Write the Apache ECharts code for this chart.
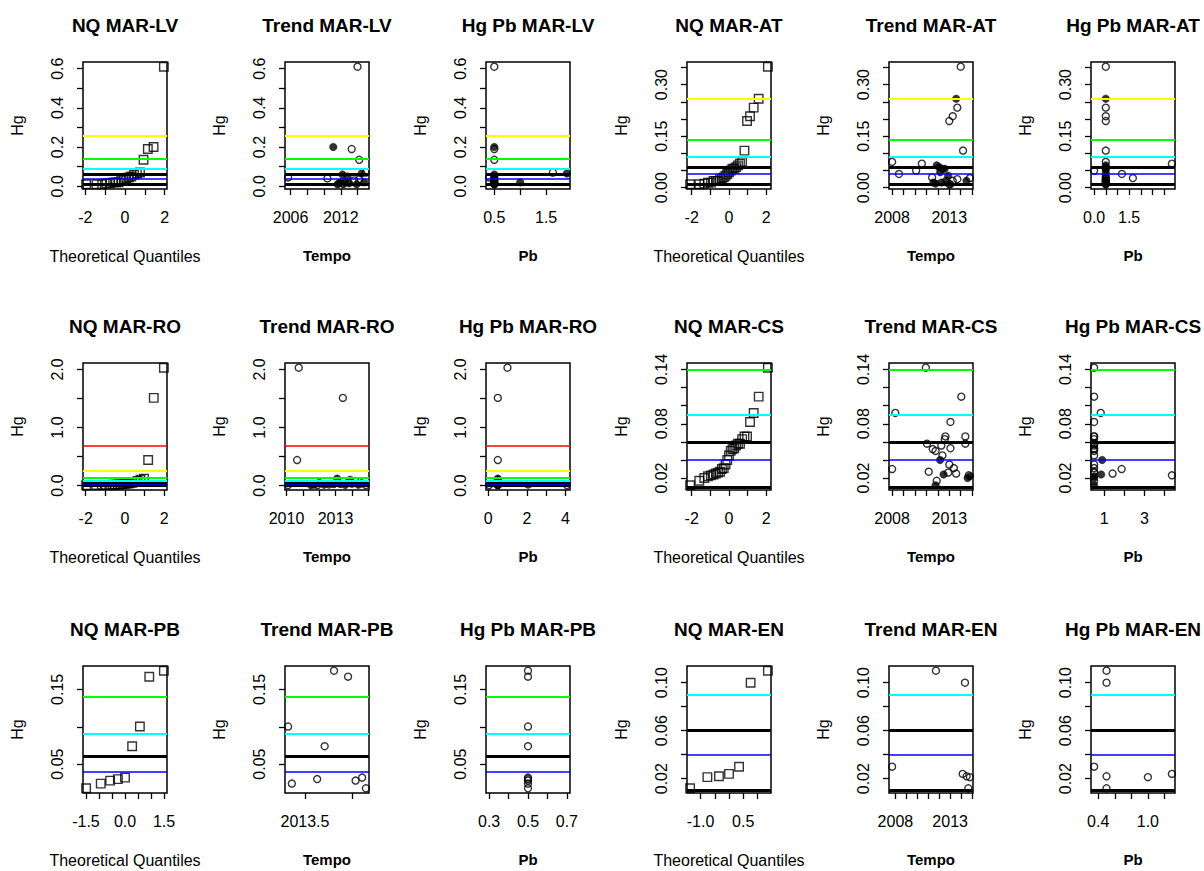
<!DOCTYPE html>
<html><head><meta charset="utf-8">
<script src="https://cdn.jsdelivr.net/npm/echarts@6/dist/echarts.min.js"></script>
<style>html,body{margin:0;padding:0;background:#fff}#c{width:1204px;height:871px}</style>
</head><body><div id="c"></div>
<script>
// ---------------- DATA ----------------
const locOrder = ["LV", "AT", "RO", "CS", "PB", "EN"];
// horizontal reference levels of Hg
const limitValues = [0.01, 0.04, 0.06, 0.09, 0.14, 0.26, 0.68];

// MAR-LV
const tempoLV = [2005.7, 2010.4, 2011.1, 2013.3, 2014.2, 2014.0, 2014.5, 2015.0, 2012.2, 2012.8, 2014.2, 2013.6, 2012.0, 2012.5, 2014.8, 2013.0, 2011.8, 2012.3, 2013.9, 2011.6];
const hgLV = [0.045, 0.04, 0.2, 0.19, 0.135, 0.61, 0.065, 0.07, 0.06, 0.05, 0.035, 0.03, 0.02, 0.02, 0.02, 0.015, 0.015, 0.01, 0.01, 0.01];
const pbLV = [0.4, 0.5, 0.5, 0.5, 0.5, 0.5, 1.9, 1.63, 0.5, 0.5, 0.5, 0.5, 1.0, 0.5, 0.5, 0.5, 0.5, 0.5, 0.5, 0.5];
const filledLV = [0, 0, 1, 0, 0, 0, 1, 0, 1, 1, 0, 0, 1, 1, 1, 1, 1, 1, 1, 1];
const tqLV = [-1.95996, -1.43953, -1.15035, -0.93459, -0.75542, -0.59776, -0.45376, -0.31864, -0.18912, -0.06271, 0.06271, 0.18912, 0.31864, 0.45376, 0.59776, 0.75542, 0.93459, 1.15035, 1.43953, 1.95996];

// MAR-AT
const tempoAT = [2014.0, 2013.6, 2013.7, 2013.3, 2013.0, 2014.2, 2008.0, 2010.6, 2008.6, 2010.1, 2014.8, 2011.9, 2012.1, 2012.4, 2012.6, 2012.2, 2011.6, 2011.8, 2012.3, 2012.7, 2013.0, 2013.3, 2013.7, 2014.5, 2012.9, 2013.1, 2011.5];
const hgAT = [0.352, 0.259, 0.233, 0.208, 0.194, 0.108, 0.075, 0.07, 0.04, 0.05, 0.028, 0.065, 0.06, 0.055, 0.055, 0.045, 0.015, 0.012, 0.015, 0.02, 0.01, 0.02, 0.025, 0.02, 0.035, 0.01, 0.03];
const pbAT = [0.5, 0.5, 0.5, 0.5, 0.5, 0.5, 0.5, 3.33, 1.19, 0.0, 1.66, 0.5, 0.5, 0.5, 0.5, 0.5, 0.5, 0.5, 0.5, 0.5, 0.5, 0.5, 0.5, 0.5, 0.5, 0.5, 0.5];
const filledAT = [0, 1, 0, 0, 0, 0, 0, 0, 0, 0, 0, 1, 1, 1, 1, 1, 1, 1, 1, 1, 0, 0, 0, 1, 1, 1, 0];
const tqAT = [-2.0858, -1.5932, -1.3245, -1.1279, -0.9674, -0.8284, -0.7040, -0.5895, -0.4824, -0.3804, -0.2822, -0.1867, -0.0929, 0, 0.0929, 0.1867, 0.2822, 0.3804, 0.4824, 0.5895, 0.7040, 0.8284, 0.9674, 1.1279, 1.3245, 1.5932, 2.0858];

// MAR-RO
const tempoRO = [2010.75, 2013.45, 2010.65, 2013.1, 2013.9, 2014.2, 2010.1, 2014.86, 2011.7, 2011.5, 2011.9, 2012.3, 2012.6, 2012.9, 2013.3, 2013.6, 2014.0, 2014.4, 2014.6, 2012.0, 2013.8];
const hgRO = [2.03, 1.51, 0.44, 0.12, 0.1, 0.08, 0.01, 0.01, 0.02, 0.005, 0.01, 0.015, 0.02, 0.025, 0.03, 0.012, 0.035, 0.015, 0.04, 0.05, 0.06];
const pbRO = [1.0, 0.5, 0.5, 0.5, 0.5, 0.5, 0.05, 4.07, 2.07, 0.5, 0.5, 0.5, 0.5, 0.5, 0.5, 0.5, 0.5, 0.5, 0.5, 0.5, 0.5];
const filledRO = [0, 0, 0, 1, 1, 0, 0, 0, 0, 1, 0, 1, 0, 1, 0, 1, 0, 1, 0, 1, 0];
const tqRO = [-1.9808, -1.4652, -1.1798, -0.9674, -0.7916, -0.6372, -0.4972, -0.3661, -0.2409, -0.1195, 0, 0.1195, 0.2409, 0.3661, 0.4972, 0.6372, 0.7916, 0.9674, 1.1798, 1.4652, 1.9808];

// MAR-CS
const tempoCS = [2010.95, 2014.05, 2008.28, 2013.1, 2012.66, 2014.4, 2011.05, 2014.4, 2012.3, 2013.1, 2011.55, 2011.8, 2012.2, 2013.4, 2012.9, 2013.6, 2012.5, 2008.0, 2014.7, 2014.8, 2011.9, 2011.8, 2012.4, 2013.0, 2011.2, 2014.6, 2012.6];
const hgCS = [0.142, 0.110, 0.092, 0.082, 0.066, 0.066, 0.058, 0.058, 0.056, 0.053, 0.052, 0.05, 0.04, 0.031, 0.026, 0.025, 0.024, 0.03, 0.023, 0.022, 0.017, 0.012, 0.045, 0.035, 0.027, 0.020, 0.063];
const pbCS = [0.5, 0.5, 0.83, 0.5, 0.5, 0.5, 0.5, 0.5, 0.5, 0.5, 0.5, 0.5, 0.9, 0.5, 0.5, 1.42, 0.85, 1.87, 4.37, 0.5, 0.5, 0.5, 0.5, 0.5, 0.5, 0.5, 0.5];
const filledCS = [0, 0, 0, 0, 0, 0, 0, 0, 0, 0, 0, 0, 1, 0, 0, 0, 1, 0, 0, 1, 0, 1, 0, 0, 0, 1, 0];
const tqCS = tqAT.slice();

// MAR-PB
const tempoPB = [2013.32, 2013.36, 2013.63, 2013.71, 2013.81, 2013.96, 2014.04, 2014.11, 2014.15];
const hgPB = [0.1003, 0.024, 0.03, 0.074, 0.175, 0.167, 0.028, 0.032, 0.0177];
const pbPB = [0.5, 0.5, 0.5, 0.5, 0.5, 0.5, 0.5, 0.5, 0.5];
const filledPB = [0, 0, 0, 0, 0, 0, 0, 0, 0];
const tqPB = [-1.4944, -0.9320, -0.5716, -0.2744, 0, 0.2744, 0.5716, 0.9320, 1.4944];

// MAR-EN
const tempoEN = [2007.7, 2011.7, 2014.35, 2014.14, 2014.5, 2014.8, 2014.66];
const hgEN = [0.03, 0.11, 0.1, 0.024, 0.022, 0.0213, 0.012];
const pbEN = [0.35, 0.5, 0.5, 1.29, 0.5, 1.0, 0.5];
const filledEN = [0, 0, 0, 0, 0, 0, 0];
const tqEN = [-1.3648, -0.7585, -0.3529, 0, 0.3529, 0.7585, 1.3648];

// tick positions and tick labels
const yTicksLV = [0, 0.1, 0.2, 0.3, 0.4, 0.5, 0.6], yLabelsLV = ["0.0", "0.2", "0.4", "0.6"];
const yTicksAT = [0, 0.05, 0.1, 0.15, 0.2, 0.25, 0.3, 0.35], yLabelsAT = ["0.00", "0.15", "0.30"];
const yTicksRO = [0, 0.5, 1, 1.5, 2], yLabelsRO = ["0.0", "1.0", "2.0"];
const yTicksCS = [0.02, 0.04, 0.06, 0.08, 0.1, 0.12, 0.14], yLabelsCS = ["0.02", "0.08", "0.14"];
const yTicksPB = [0.05, 0.1, 0.15], yLabelsPB = ["0.05", "0.15"];
const yTicksEN = [0.02, 0.04, 0.06, 0.08, 0.1], yLabelsEN = ["0.02", "0.06", "0.10"];

const nqTicks2 = [-2, -1, 0, 1, 2], nqLabels2 = ["-2", "0", "2"];
const nqTicksPB = [-1.5, -1, -0.5, 0, 0.5, 1, 1.5], nqLabelsPB = ["-1.5", "0.0", "1.5"];
const nqTicksEN = [-1, -0.5, 0, 0.5, 1], nqLabelsEN = ["-1.0", "0.5"];

const trTicksLV = [2006, 2008, 2010, 2012, 2014], trLabelsLV = ["2006", "2012"];
const trTicksAT = [2008, 2009, 2010, 2011, 2012, 2013, 2014, 2015], trLabelsAT = ["2008", "2013"];
const trTicksRO = [2010, 2011, 2012, 2013, 2014, 2015], trLabelsRO = ["2010", "2013"];
const trTicksCS = [2008, 2009, 2010, 2011, 2012, 2013, 2014, 2015], trLabelsCS = ["2008", "2013"];
const trTicksPB = [2013.5, 2014.0], trLabelsPB = ["2013.5"];
const trTicksEN = [2008, 2009, 2010, 2011, 2012, 2013, 2014, 2015], trLabelsEN = ["2008", "2013"];

const pbTicksLV = [0.5, 1.0, 1.5], pbLabelsLV = ["0.5", "1.5"];
const pbTicksAT = [0, 0.5, 1, 1.5, 2, 2.5, 3], pbLabelsAT = ["0.0", "1.5"];
const pbTicksRO = [0, 1, 2, 3, 4], pbLabelsRO = ["0", "2", "4"];
const pbTicksCS = [1, 2, 3, 4], pbLabelsCS = ["1", "3"];
const pbTicksPB = [0.3, 0.4, 0.5, 0.6, 0.7], pbLabelsPB = ["0.3", "0.5", "0.7"];
const pbTicksEN = [0.4, 0.6, 0.8, 1.0, 1.2], pbLabelsEN = ["0.4", "1.0"];

// ---------------- BUILD ----------------
const LOC = {
  LV: {hg: hgLV, tempo: tempoLV, pb: pbLV, filled: filledLV, tq: tqLV, yT: yTicksLV, yL: yLabelsLV, nqT: nqTicks2, nqL: nqLabels2, trT: trTicksLV, trL: trLabelsLV, pbT: pbTicksLV, pbL: pbLabelsLV},
  AT: {hg: hgAT, tempo: tempoAT, pb: pbAT, filled: filledAT, tq: tqAT, yT: yTicksAT, yL: yLabelsAT, nqT: nqTicks2, nqL: nqLabels2, trT: trTicksAT, trL: trLabelsAT, pbT: pbTicksAT, pbL: pbLabelsAT},
  RO: {hg: hgRO, tempo: tempoRO, pb: pbRO, filled: filledRO, tq: tqRO, yT: yTicksRO, yL: yLabelsRO, nqT: nqTicks2, nqL: nqLabels2, trT: trTicksRO, trL: trLabelsRO, pbT: pbTicksRO, pbL: pbLabelsRO},
  CS: {hg: hgCS, tempo: tempoCS, pb: pbCS, filled: filledCS, tq: tqCS, yT: yTicksCS, yL: yLabelsCS, nqT: nqTicks2, nqL: nqLabels2, trT: trTicksCS, trL: trLabelsCS, pbT: pbTicksCS, pbL: pbLabelsCS},
  PB: {hg: hgPB, tempo: tempoPB, pb: pbPB, filled: filledPB, tq: tqPB, yT: yTicksPB, yL: yLabelsPB, nqT: nqTicksPB, nqL: nqLabelsPB, trT: trTicksPB, trL: trLabelsPB, pbT: pbTicksPB, pbL: pbLabelsPB},
  EN: {hg: hgEN, tempo: tempoEN, pb: pbEN, filled: filledEN, tq: tqEN, yT: yTicksEN, yL: yLabelsEN, nqT: nqTicksEN, nqL: nqLabelsEN, trT: trTicksEN, trL: trLabelsEN, pbT: pbTicksEN, pbL: pbLabelsEN}
};

const limitStyles = [
  {color: '#000000', width: 2.8},
  {color: '#0000FF', width: 1.5},
  {color: '#000000', width: 2.8},
  {color: '#00FFFF', width: 1.8},
  {color: '#00FF00', width: 1.8},
  {color: '#FFFF00', width: 1.8},
  {color: '#FF0000', width: 1.5}
];

const FONT = "'Liberation Sans', Arial, Helvetica, sans-serif";
const colLeft = [83, 285, 486, 687, 889, 1091];
const rowTop = [62, 363, 666];
const boxW = 84, boxH = 127;

function rRange(vals) {
  let mn = Math.min.apply(null, vals), mx = Math.max.apply(null, vals);
  if (mn === mx) { const t = mn === 0 ? 1 : 0.4 * Math.abs(mn); mn -= t; mx += t; }
  const p = (mx - mn) * 0.04;
  return [mn - p, mx + p];
}
function fmt(strs) {
  return function (v) {
    for (const s of strs) if (Math.abs(parseFloat(s) - v) < 1e-9) return s;
    return '';
  };
}

const option = {
  animation: false,
  backgroundColor: '#ffffff',
  title: [], grid: [], xAxis: [], yAxis: [], series: []
};

for (let r = 0; r < 3; r++) {
  for (let c = 0; c < 6; c++) {
    const i = r * 6 + c;
    const loc = locOrder[r * 2 + Math.floor(c / 3)];
    const kind = c % 3;
    const L = LOC[loc];
    const yr = rRange(L.hg);
    let xs, xT, xL, xName, xBold, ttl;
    if (kind === 0) { xs = L.tq; xT = L.nqT; xL = L.nqL; xName = 'Theoretical Quantiles'; xBold = false; ttl = 'NQ MAR-' + loc; }
    else if (kind === 1) { xs = L.tempo; xT = L.trT; xL = L.trL; xName = 'Tempo'; xBold = true; ttl = 'Trend MAR-' + loc; }
    else { xs = L.pb; xT = L.pbT; xL = L.pbL; xName = 'Pb'; xBold = true; ttl = 'Hg Pb MAR-' + loc; }
    const xr = rRange(xs);
    const left = colLeft[c], top = rowTop[r];

    option.title.push({
      text: ttl, left: left + boxW / 2, top: top - 46, textAlign: 'center', padding: 0,
      textStyle: {fontFamily: FONT, fontSize: 19, fontWeight: 'bold', color: '#000'}
    });
    option.grid.push({
      left: left, top: top, width: boxW, height: boxH, show: true,
      borderColor: '#000', borderWidth: 1.5, backgroundColor: 'rgba(0,0,0,0)', containLabel: false
    });
    option.xAxis.push({
      gridIndex: i, type: 'value', min: xr[0], max: xr[1], position: 'bottom',
      axisLine: {show: false, onZero: false},
      axisTick: {show: true, inside: false, length: 6, lineStyle: {color: '#000', width: 1.3}, customValues: xT},
      axisLabel: {show: true, customValues: xL.map(Number), formatter: fmt(xL), margin: 20, color: '#000', fontSize: 16, fontFamily: FONT, hideOverlap: false},
      splitLine: {show: false},
      name: xName, nameLocation: 'middle', nameGap: 59,
      nameTextStyle: {fontFamily: FONT, fontSize: xBold ? 15 : 16, fontWeight: xBold ? 'bold' : 'normal', color: '#000'}
    });
    option.yAxis.push({
      gridIndex: i, type: 'value', min: yr[0], max: yr[1], position: 'left',
      axisLine: {show: false, onZero: false},
      axisTick: {show: true, inside: false, length: 6, lineStyle: {color: '#000', width: 1.3}, customValues: L.yT},
      axisLabel: {show: true, customValues: L.yL.map(Number), formatter: fmt(L.yL), rotate: 90, margin: 18, color: '#000', fontSize: 16, fontFamily: FONT, hideOverlap: false},
      splitLine: {show: false},
      name: 'Hg', nameLocation: 'middle', nameRotate: 90, nameGap: 58,
      nameTextStyle: {fontFamily: FONT, fontSize: 16, color: '#000'}
    });

    const lines = [];
    limitValues.forEach(function (v, k) {
      if (v > yr[0] && v < yr[1]) lines.push({yAxis: v, lineStyle: {color: limitStyles[k].color, width: limitStyles[k].width, type: 'solid'}});
    });
    const markLine = {silent: true, symbol: ['none', 'none'], label: {show: false}, animation: false, z: 5, data: lines};

    if (kind === 0) {
      const sorted = L.hg.slice().sort(function (a, b) { return a - b; });
      option.series.push({
        type: 'scatter', xAxisIndex: i, yAxisIndex: i, symbol: 'rect', symbolSize: 8.5,
        itemStyle: {color: 'rgba(0,0,0,0)', borderColor: '#000', borderWidth: 1.4},
        emphasis: {disabled: true}, silent: true, z: 2,
        data: L.tq.map(function (q, k) { return [q, sorted[k]]; }),
        markLine: markLine
      });
    } else {
      const openPts = [], fillPts = [];
      xs.forEach(function (x, k) { (L.filled[k] ? fillPts : openPts).push([x, L.hg[k]]); });
      option.series.push({
        type: 'scatter', xAxisIndex: i, yAxisIndex: i, symbol: 'circle', symbolSize: 7,
        itemStyle: {color: 'rgba(0,0,0,0)', borderColor: '#000', borderWidth: 1.4},
        emphasis: {disabled: true}, silent: true, z: 2, data: openPts, markLine: markLine
      });
      option.series.push({
        type: 'scatter', xAxisIndex: i, yAxisIndex: i, symbol: 'circle', symbolSize: 7.5,
        itemStyle: {color: '#000', borderColor: '#000', borderWidth: 0.5},
        emphasis: {disabled: true}, silent: true, z: 3, data: fillPts
      });
    }
  }
}

const chart = echarts.init(document.getElementById('c'), null, {renderer: 'svg', width: 1204, height: 871});
chart.setOption(option);
</script>
</body></html>
